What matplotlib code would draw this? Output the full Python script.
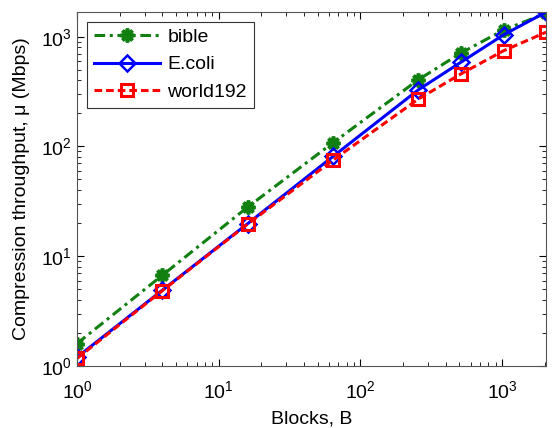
import numpy as np
import matplotlib
matplotlib.use('Agg')
import matplotlib.pyplot as plt

plt.rcParams['font.family'] = ['Liberation Sans', 'DejaVu Sans']
plt.rcParams['mathtext.fontset'] = 'custom'
plt.rcParams['mathtext.rm'] = 'Liberation Sans'
plt.rcParams['mathtext.it'] = 'Liberation Sans:italic'
plt.rcParams['mathtext.bf'] = 'Liberation Sans:bold'

blocks = [1, 4, 16, 64, 256, 512, 1024, 2048]
bible = [1.6, 6.7, 28, 108, 405, 710, 1150, 1640]
ecoli = [1.2, 4.9, 19.8, 81, 328, 585, 1040, 1680]
world192 = [1.17, 4.85, 19.6, 75, 270, 458, 745, 1100]

fig = plt.figure(figsize=(5.52, 4.28), dpi=100)
ax = fig.add_axes([0.1395, 0.145, 0.85, 0.827])

ax.loglog(blocks, bible, color='#118011', linestyle=(0, (3.5, 1.5, 1, 1.5)), linewidth=2.2,
          marker=(8, 2, 0), markersize=10, markeredgewidth=2.6, label='bible')
ax.loglog(blocks, ecoli, color='#0000ff', linestyle='-', linewidth=2.2,
          marker='D', markersize=8, markerfacecolor='none', markeredgewidth=1.8,
          label='E.coli')
ax.loglog(blocks, world192, color='#ff0000', linestyle=(0, (2.5, 1.3)), linewidth=2.2,
          marker='s', markersize=8, markerfacecolor='none', markeredgewidth=2.2,
          label='world192')

ax.set_xlim(1, 2048)
ax.set_ylim(1, 1680)
ax.tick_params(which='both', direction='in', top=True, right=True, labelsize=14)
ax.tick_params(which='major', length=5)
ax.tick_params(which='minor', length=3)
ax.tick_params(axis='x', which='major', pad=10)
for s in ax.spines.values():
    s.set_color('#555555')

ax.set_xlabel('Blocks, B', fontsize=14, labelpad=6)
ax.set_ylabel('Compression throughput, μ (Mbps)', fontsize=14, labelpad=8)

leg = ax.legend(loc='upper left', fontsize=14, fancybox=False, framealpha=1,
                edgecolor='#333333', handlelength=3.4, borderpad=0.35,
                labelspacing=0.5, handletextpad=0.4)
leg.get_frame().set_linewidth(0.8)

fig.savefig('out.png', dpi=100)
